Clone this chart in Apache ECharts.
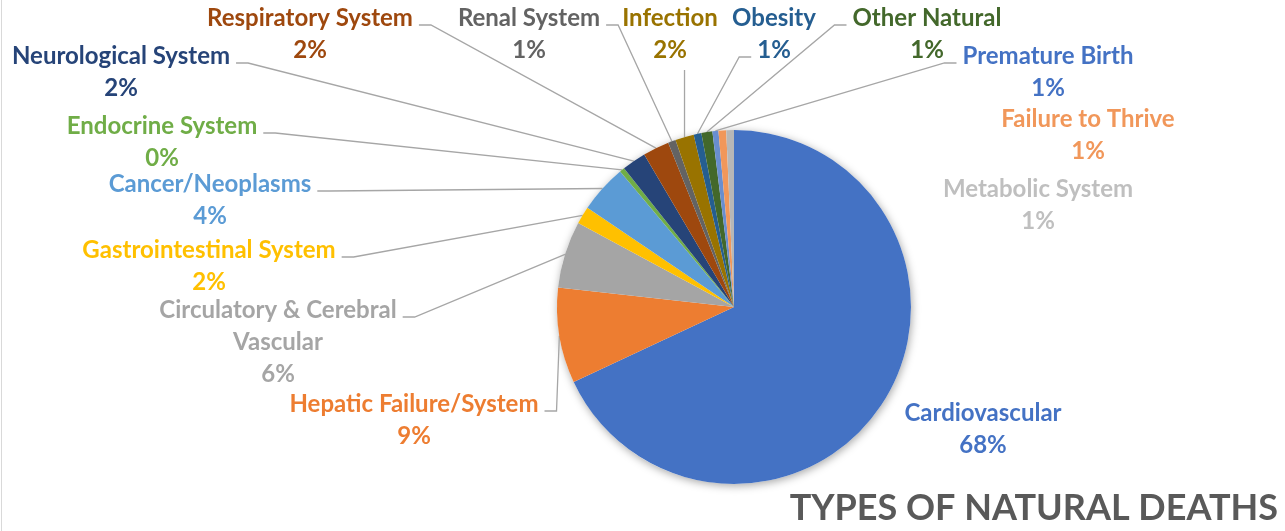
<!DOCTYPE html>
<html>
<head>
    <meta charset="utf-8">
    <title>Types of Natural Deaths</title>
    <script src="https://cdn.jsdelivr.net/npm/echarts@6/dist/echarts.min.js"></script>
    <style>
        html, body {
            margin: 0;
            padding: 0;
            background: #fff;
        }
        #main {
            position: absolute;
            width: 1285px;
            height: 531px;
            top: 0;
            left: 0;
        }
        .edge {
            position: absolute;
            left: 1px;
            top: 0;
            width: 1px;
            height: 531px;
            background: #d9d9d9;
        }
    </style>
</head>
<body>
<div id="main"></div>
<div class="edge"></div>
<script>
    // data, clockwise from 12 o'clock
    var causes = ['Cardiovascular', 'Hepatic Failure/System', 'Circulatory & Cerebral Vascular',
        'Gastrointestinal System', 'Cancer/Neoplasms', 'Endocrine System', 'Neurological System',
        'Respiratory System', 'Renal System', 'Infection', 'Obesity', 'Other Natural',
        'Premature Birth', 'Failure to Thrive', 'Metabolic System'];
    var shares = [67.9, 8.7, 6.1, 1.6, 4.4, 0.45, 2.2, 2.4, 0.7, 1.7, 0.7, 1.0, 0.55, 0.7, 0.7];
    var colors = ['#4472C4', '#ED7D31', '#A5A5A5', '#FFC000', '#5B9BD5', '#70AD47', '#264478',
        '#9E480E', '#636363', '#997300', '#255E91', '#43682B', '#698ED0', '#F1975A', '#B7B7B7'];
    var labelColors = ['#4472C4', '#ED7D31', '#A5A5A5', '#FFC000', '#5B9BD5', '#70AD47', '#264478',
        '#9E480E', '#636363', '#997300', '#255E91', '#43682B', '#4472C4', '#F1975A', '#BFBFBF'];

    // label placement (centre of first text line) and where the leader line attaches
    var labelPos = [[983, 413], [414, 404], [278, 310], [209, 250], [210, 184], [162, 126],
        [121, 56], [310, 18], [529, 18], [670, 18], [774, 18], [927, 18], [1048, 56],
        [1088, 119], [1038, 189]];
    // r0 = right of line 0, l1 = left of line 1, b = below, null = no line
    var attach = [null, 'r0', 'r0', 'r0', 'r0', 'r0', 'r0', 'r0', 'r0', 'b', 'l1', 'l0', 'l0', null, null];

    var FONT = 'Lato';
    var FS = 24;
    var LH = 32;

    var total = 0;
    for (var i = 0; i < shares.length; i++) total += shares[i];

    function wrapName(n) {
        return n.length > 24 ? n.replace(/ (\S+)$/, '\n$1') : n;
    }
    function labelText(i) {
        return wrapName(causes[i]) + '\n' + Math.round(shares[i] / total * 100) + '%';
    }

    var ctx = document.createElement('canvas').getContext('2d');
    ctx.font = 'bold ' + FS + 'px ' + FONT;
    function textW(s) {
        return ctx.measureText(s).width;
    }

    var pieData = [];
    for (var i = 0; i < causes.length; i++) {
        pieData.push({
            name: causes[i],
            value: shares[i],
            itemStyle: {color: colors[i]},
            label: {color: labelColors[i]},
            labelLine: {show: attach[i] !== null}
        });
    }

    var myChart = echarts.init(document.getElementById('main'));
    var option = {
        animation: false,
        title: {
            text: 'TYPES OF NATURAL DEATHS',
            right: 2,
            top: 485,
            textStyle: {
                fontFamily: FONT,
                fontWeight: 'bold',
                fontSize: 36,
                color: '#595959'
            }
        },
        series: [
            {
                // soft shadow under the pie
                type: 'pie',
                silent: true,
                z: 1,
                center: [734, 307],
                radius: 177,
                label: {show: false},
                labelLine: {show: false},
                itemStyle: {
                    color: '#fff',
                    shadowBlur: 8,
                    shadowOffsetX: 1,
                    shadowOffsetY: 2,
                    shadowColor: 'rgba(0,0,0,0.35)'
                },
                data: [1]
            },
            {
                name: 'Natural deaths',
                type: 'pie',
                z: 2,
                center: [734, 307],
                radius: 177,
                startAngle: 90,
                clockwise: true,
                avoidLabelOverlap: false,
                itemStyle: {borderWidth: 0},
                label: {
                    show: true,
                    position: 'outside',
                    fontFamily: FONT,
                    fontWeight: 'bold',
                    fontSize: FS,
                    lineHeight: LH,
                    align: 'center',
                    formatter: function (p) {
                        return labelText(p.dataIndex);
                    }
                },
                labelLine: {
                    show: true,
                    lineStyle: {color: '#A6A6A6', width: 1.3}
                },
                labelLayout: function (p) {
                    var i = p.dataIndex;
                    var pos = labelPos[i];
                    var res = {x: pos[0], y: pos[1] - LH / 2, align: 'center', verticalAlign: 'top'};
                    var a = attach[i];
                    if (a && p.labelLinePoints) {
                        var lines = labelText(i).split('\n');
                        var p0 = p.labelLinePoints[0];
                        if (a === 'b') {
                            var endB = [p0[0], pos[1] + LH * (lines.length - 1) + 20];
                            res.labelLinePoints = [p0, endB, endB];
                        } else {
                            var li = +a.charAt(1);
                            var dir = a.charAt(0) === 'r' ? 1 : -1;
                            var ly = pos[1] + li * LH + 7;
                            var end = [pos[0] + dir * (textW(lines[li]) / 2 + 6), ly];
                            var elbow = [end[0] + dir * 12, ly];
                            res.labelLinePoints = [p0, elbow, end];
                        }
                    }
                    return res;
                },
                data: pieData
            }
        ]
    };
    myChart.setOption(option);
</script>
</body>
</html>
